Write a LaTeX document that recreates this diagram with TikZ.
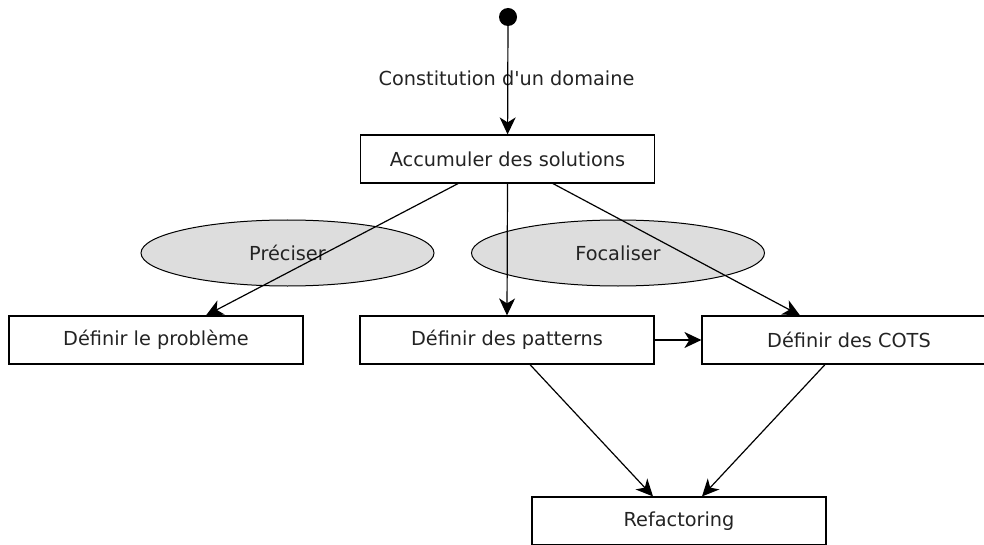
\documentclass[tikz,border=0pt]{standalone}
\usepackage{fontspec}
\setmainfont{DejaVu Sans}[Ligatures=TeXOff]
\usetikzlibrary{arrows.meta,shapes.geometric}
\definecolor{txt}{RGB}{35,35,35}
\definecolor{ellfill}{RGB}{221,221,221}
\begin{document}
\begin{tikzpicture}[x=1pt,y=-1pt,
  every node/.style={font=\fontsize{19.3}{23}\selectfont, text=txt},
  activity/.style={draw=black, line width=1.2pt, rectangle, minimum width=294pt, minimum height=48pt, inner sep=0pt},
  phase/.style={draw=black, line width=1pt, ellipse, fill=ellfill, minimum width=293pt, minimum height=66pt, inner sep=0pt},
  flow/.style={draw=black, line width=1.2pt, -{Stealth[length=17pt,width=16pt,inset=5pt]}},
  startdot/.style={circle, fill=black, minimum size=18pt, inner sep=0pt}
]
\useasboundingbox (0,0) rectangle (984,545);
\clip (0,0) rectangle (984,545);

% phases
\node[phase] (prec) at (287.5,253) {Préciser};
\node[phase] (foc) at (618,253) {Focaliser};

% activities
\node[startdot] (start) at (508,17) {};
\node (lbl) at (506.5,78) {Constitution d'un domaine};
\node[activity] (acc) at (507.5,159) {Accumuler des solutions};
\node[activity] (prob) at (156,340) {Définir le problème};
\node[activity] (pat) at (507,340) {Définir des patterns};
\node[activity] (cots) at (849,340) {Définir des COTS};
\node[activity] (ref) at (679,521) {Refactoring};

% transitions
\draw[flow] (start) -- (acc);
\draw[flow] ([xshift=-49.5pt]acc.south) -- ([xshift=50pt]prob.north);
\draw[flow] (acc.south) -- (pat.north);
\draw[flow] ([xshift=45.5pt]acc.south) -- ([xshift=-49pt]cots.north);
\draw[flow] (pat.east) -- (cots.west);
\draw[flow] ([xshift=23pt]pat.south) -- ([xshift=-26pt]ref.north);
\draw[flow] ([xshift=-24pt]cots.south) -- ([xshift=23pt]ref.north);
\end{tikzpicture}
\end{document}
